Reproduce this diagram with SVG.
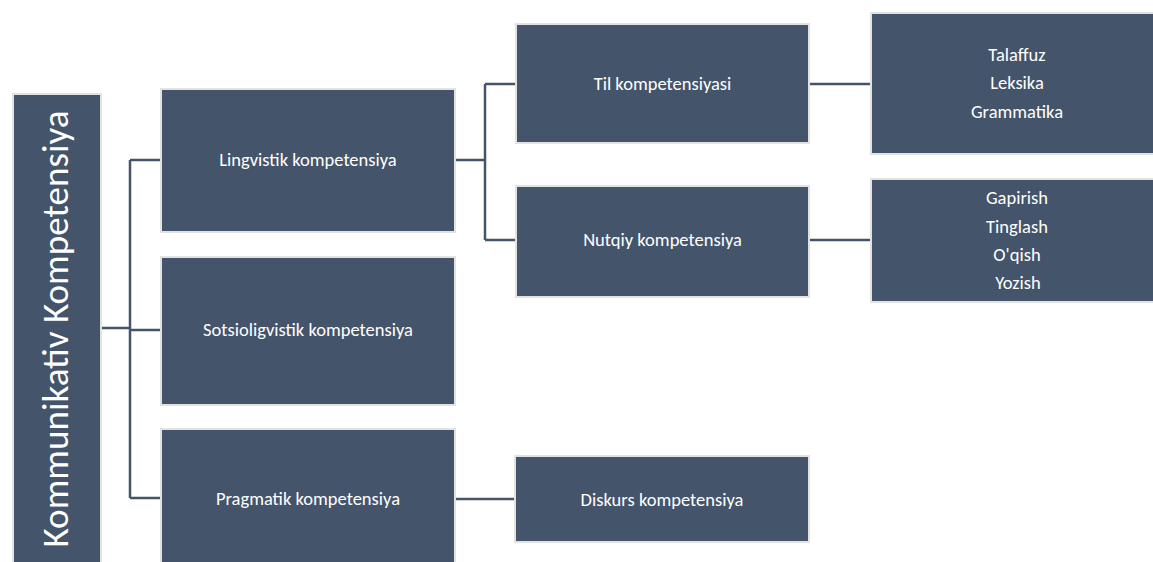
<svg xmlns="http://www.w3.org/2000/svg" width="1153" height="562" viewBox="0 0 1153 562">
<style>
.box{fill:#44546A;stroke:#E2E2E2;stroke-width:2}
.t{font-family:Calibri,Carlito,Lato,"Noto Sans",sans-serif;font-size:18.5px;fill:#FFFFFF;text-anchor:middle}
.big{font-family:Calibri,Carlito,Lato,"Noto Sans",sans-serif;font-size:36px;font-weight:300;fill:#FFFFFF;text-anchor:middle}
.c{fill:none;stroke:#44546A;stroke-width:2.5}
</style>
<rect width="1153" height="562" fill="#FFFFFF"/>
<g id="connectors">
<path class="c" d="M102,328 H130 M130,160 V498 M130,160 H160 M130,330 H160 M130,498 H160"/>
<path class="c" d="M456,160 H485 M485,84 V240 M485,84 H515 M485,240 H515"/>
<path class="c" d="M810,84 H870 M810,240 H870"/>
<path class="c" d="M456,499 H514"/>
</g>
<g id="root">
<rect class="box" x="13" y="94" width="88" height="490"/>
<text class="big" transform="translate(68,329) rotate(-90)" textLength="437" lengthAdjust="spacingAndGlyphs">Kommunikativ Kompetensiya</text>
</g>
<g id="lingvistik">
<rect class="box" x="161" y="89" width="294" height="143"/>
<text class="t" x="308" y="166">Lingvistik kompetensiya</text>
</g>
<g id="sotsiolingvistik">
<rect class="box" x="161" y="257" width="294" height="148"/>
<text class="t" x="308" y="336">Sotsioligvistik kompetensiya</text>
</g>
<g id="pragmatik">
<rect class="box" x="161" y="429" width="294" height="145"/>
<text class="t" x="308" y="505">Pragmatik kompetensiya</text>
</g>
<g id="til">
<rect class="box" x="516" y="24" width="293" height="119"/>
<text class="t" x="662.5" y="90">Til kompetensiyasi</text>
</g>
<g id="nutqiy">
<rect class="box" x="516" y="186" width="293" height="111"/>
<text class="t" x="662.5" y="246">Nutqiy kompetensiya</text>
</g>
<g id="diskurs">
<rect class="box" x="515" y="456" width="294" height="86"/>
<text class="t" x="662" y="506">Diskurs kompetensiya</text>
</g>
<g id="til-items">
<rect class="box" x="871" y="13" width="292" height="141"/>
<text class="t" x="1017" y="61">Talaffuz</text>
<text class="t" x="1017" y="89">Leksika</text>
<text class="t" x="1017" y="118">Grammatika</text>
</g>
<g id="nutq-items">
<rect class="box" x="871" y="179" width="292" height="123"/>
<text class="t" x="1017" y="204">Gapirish</text>
<text class="t" x="1017" y="233">Tinglash</text>
<text class="t" x="1017" y="261">O'qish</text>
<text class="t" x="1018" y="289">Yozish</text>
</g>
</svg>
